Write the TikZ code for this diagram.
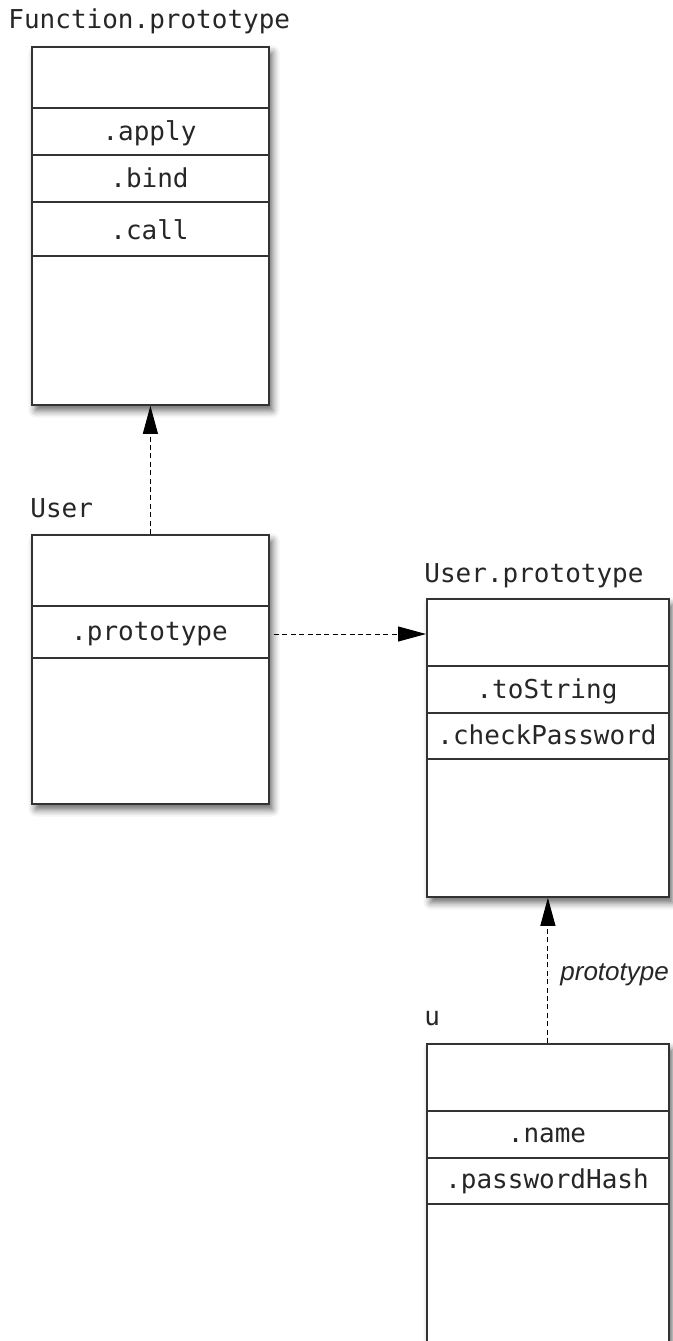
\documentclass[tikz,border=0pt]{standalone}
\usepackage{fontspec}
\setmonofont{DejaVu Sans Mono}
\setsansfont{Liberation Sans}
\usetikzlibrary{arrows.meta,shadows.blur}
\begin{document}
\begin{tikzpicture}[x=0.5pt,y=-0.5pt,
        objbox/.style={draw=black!80,line width=0.9pt,fill=white,anchor=north west,inner sep=0pt,
            blur shadow={shadow xshift=1.8pt,shadow yshift=-2.8pt,shadow blur radius=3.5pt,shadow opacity=60}},
        field/.style={font=\fontsize{13}{15}\ttfamily,text=black!85,anchor=base,inner sep=0pt},
        title/.style={font=\fontsize{13}{15}\ttfamily,text=black!85,anchor=base west,inner sep=0pt},
        divider/.style={draw=black!80,line width=0.6pt},
        link/.style={black,line width=0.5pt,dash pattern=on 2.5pt off 1.7pt,-{Triangle[length=14pt,width=7.5pt]}}]
                \useasboundingbox (0,0) rectangle (673,1341) ;
                % Function.prototype
                \node[title] (fntitle) at (8,28) {Function.prototype} ;
                \node[objbox,minimum width=118.5pt,minimum height=179pt] (fnproto) at (31,46) {} ;
                \draw[divider] (31,108) -- (268,108) ;
                \draw[divider] (31,155) -- (268,155) ;
                \draw[divider] (31,202) -- (268,202) ;
                \draw[divider] (31,256) -- (268,256) ;
                \node[field] (apply) at (149.5,140) {.apply} ;
                \node[field] (bind) at (149.5,187) {.bind} ;
                \node[field] (call) at (149.5,239) {.call} ;
                % User
                \node[title] (usertitle) at (30,517) {User} ;
                \node[objbox,minimum width=118.5pt,minimum height=134.5pt] (user) at (31,534) {} ;
                \draw[divider] (31,606) -- (268,606) ;
                \draw[divider] (31,658) -- (268,658) ;
                \node[field] (protofield) at (149.5,640) {.prototype} ;
                % User.prototype
                \node[title] (uptitle) at (424,582) {User.prototype} ;
                \node[objbox,minimum width=121pt,minimum height=149pt] (userproto) at (426,598) {} ;
                \draw[divider] (426,666) -- (668,666) ;
                \draw[divider] (426,713) -- (668,713) ;
                \draw[divider] (426,759) -- (668,759) ;
                \node[field] (tostring) at (547,698) {.toString} ;
                \node[field] (checkpw) at (547,744) {.checkPassword} ;
                % u
                \node[title] (utitle) at (424,1025) {u} ;
                \node[objbox,minimum width=121pt,minimum height=149pt] (u) at (426,1043) {} ;
                \draw[divider] (426,1111) -- (668,1111) ;
                \draw[divider] (426,1158) -- (668,1158) ;
                \draw[divider] (426,1204) -- (668,1204) ;
                \node[field] (name) at (547,1142) {.name} ;
                \node[field] (pwhash) at (547,1188) {.passwordHash} ;
                % links
                \draw[link] (user.north) -- (fnproto.south) ;
                \coordinate (protoout) at (274,634) ;
                \draw[link] (protoout) -- (protoout -| userproto.west) ;
                \draw[link] (u.north) -- node[right=6pt,inner sep=0pt,yshift=-2pt,font=\fontsize{13}{15}\sffamily\itshape,text=black!85] {prototype} (userproto.south) ;
\end{tikzpicture}
\end{document}
